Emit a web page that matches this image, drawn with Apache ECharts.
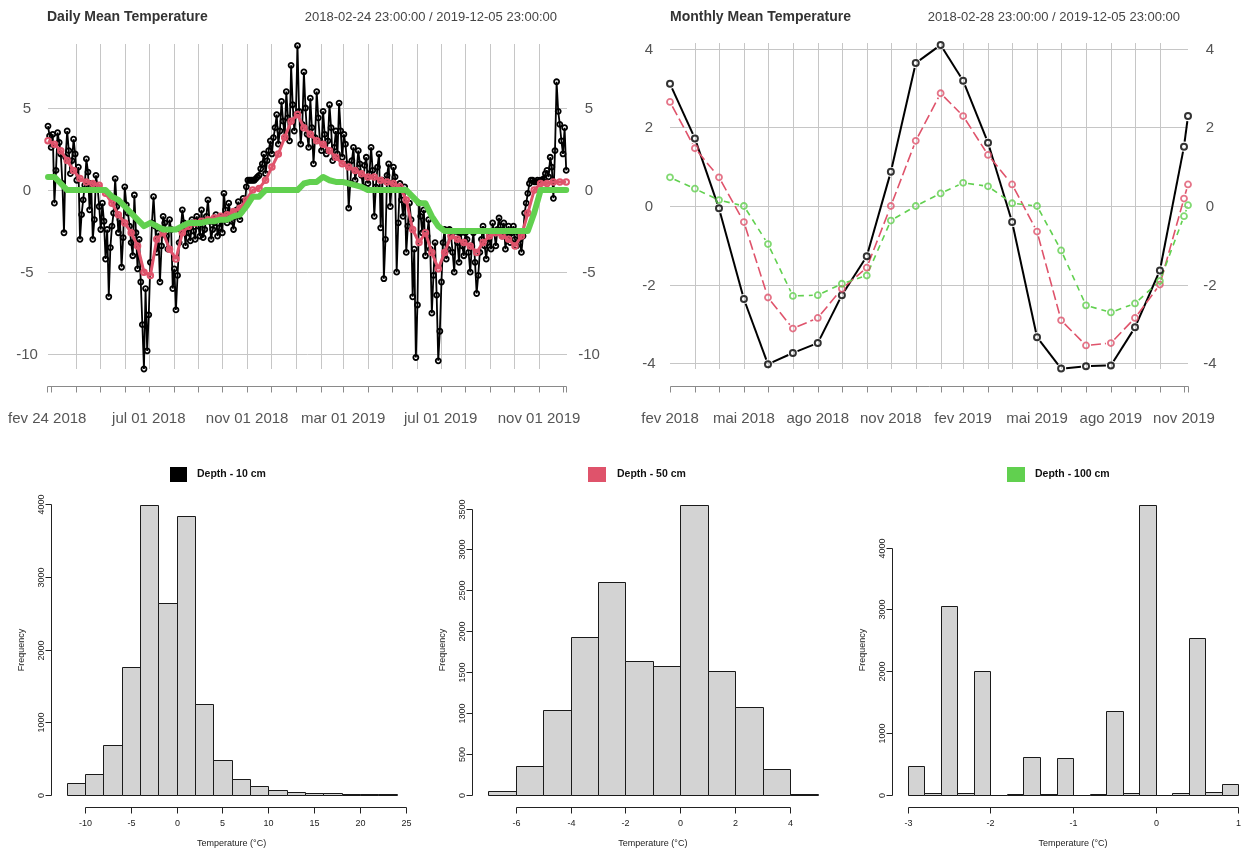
<!DOCTYPE html>
<html>
<head>
<meta charset="utf-8">
<title>Soil temperature</title>
<script src="https://cdn.jsdelivr.net/npm/echarts@6/dist/echarts.min.js"></script>
<style>
  html, body { margin: 0; padding: 0; background: #ffffff; }
  #chart { width: 1243px; height: 850px; }
</style>
</head>
<body>
<div id="chart"></div>
<script>
// ---------------------------------------------------------------
// Daily mean temperature (°C) per depth
// 10 cm sampled every 2 days, 50 cm and 100 cm every 8 days,
// all starting 2018-02-24
// ---------------------------------------------------------------
const dailyStart = '2018-02-24';
const dailyEnd = '2019-12-05';
const daily10cmStepDays = 2;
const dailyDeepStepDays = 8;

const daily10cm = [
  3.9, 3.3, 2.6, 3.4, -0.8, 1.2, 3.5, 2.9, 2.2, 0.4, -2.6, 2.0, 3.6, 2.4, 1.0, 1.8, 3.1, 2.2,
  0.6, 1.4, -3.0, -1.5, -0.6, 0.3, 1.9, 1.1, -1.2, 0.4, -3.0, -1.8, 0.9, 0.2, -1.0, -2.4,
  -0.8, -1.9, -4.2, -2.4, -6.5, -3.5, -2.2, -1.4, 0.7, -1.0, -2.6, -1.8, -4.7, -2.9, 0.2, -0.9,
  -1.4, -2.2, -3.2, -4.0, -0.3, -2.6, -4.8, -3.0, -5.6, -8.2, -10.9, -6.0, -9.8, -7.6, -4.4, -2.0,
  -0.4, -2.2, -3.8, -2.6, -5.6, -3.4, -1.6, -2.0, -2.8, -3.6, -1.8, -2.4, -6.0, -4.8,
  -7.3, -5.2, -3.2, -2.4, -1.2, -2.0, -3.4, -2.2, -2.6, -3.1, -1.8, -2.5, -3.0, -1.6, -2.2, -2.8,
  -1.2, -2.9, -2.4, -1.6, -0.6, -1.9, -3.0, -2.4, -2.0, -1.5, -2.8, -2.3, -1.6, -2.6,
  -0.2, -1.2, -2.0, -0.8, -1.4, -1.9, -2.4, -1.6, -1.2, -0.7, -1.8, -1.3, -0.5, -1.0, 0.2, 0.6,
  0.6, 0.6, 0.6, 0.6, 0.7, 0.8, 0.9, 1.3, 1.6, 2.2, 1.0, 1.8, 2.4, 3.0,
  2.2, 3.2, 3.8, 4.6, 2.8, 3.6, 5.4, 4.2, 3.2, 6.0, 4.4, 3.0, 7.6, 5.2, 3.6, 4.6,
  8.8, 4.8, 2.8, 4.0, 7.2, 5.0, 3.4, 2.6, 5.6, 3.8, 1.6, 3.2, 6.0, 4.4, 3.0, 2.4,
  4.8, 3.4, 2.2, 3.0, 5.2, 3.8, 1.8, 2.6, 3.6, 2.2, 5.3, 3.6, 2.0, 3.4,
  2.8, 1.6, -1.1, 0.4, 1.8, 2.6, 0.6, 1.2, 2.4, 1.6, 0.9, 0.2, 1.5, 2.0, 0.4, 1.0,
  2.6, 1.2, -1.6, 0.2, 1.4, 2.2, -2.3, 0.6, -5.4, -3.0, 0.9, 1.6, -1.0, 0.4,
  1.4, 0.8, -5.0, -2.0, 0.4, -0.6, -1.6, 0.2, -3.8, -2.2, -0.8, -1.8, -6.5, -3.6, -10.2, -7.0,
  -0.8, -1.6, -2.6, -1.2, -4.0, -2.8, -1.8, -3.6, -7.5, -5.2, -3.2, -6.4, -10.4, -8.6,
  -5.6, -3.2, -2.4, -4.2, -3.6, -2.4, -2.8, -3.8, -5.0, -2.8, -3.2, -4.4, -2.6, -3.4, -4.0, -2.6,
  -3.0, -3.8, -5.0, -3.4, -2.6, -4.4, -6.3, -5.2, -3.8, -3.0, -2.2, -3.4, -4.2, -3.2, -2.8, -3.6,
  -2.0, -2.6, -3.4, -2.4, -1.7, -2.2, -2.8, -2.0, -3.6, -2.8, -2.2, -3.2, -2.6, -2.2,
  -3.0, -3.4, -2.6, -3.0, -3.8, -2.8, -1.4, -0.8, -0.2, 0.4, 0.6, 0.6, 0.5, 0.5, 0.6, 0.5,
  0.6, 0.6, 0.7, 1.0, 1.2, 0.8, 2.0, 1.4, -0.5, 2.4, 6.6, 4.8, 4.0, 3.0, 2.2, 3.8, 1.2
];

const daily50cm = [
  3.0, 2.8, 2.4, 1.8, 1.2,
  0.7, 0.5, 0.4, 0.3,
  -0.2, -0.8, -1.5, -2.0,
  -2.6, -3.4, -5.0,
  -5.2, -3.0, -2.6, -3.6,
  -4.2, -2.6, -2.2, -2.0,
  -1.9, -1.8, -1.7, -1.6,
  -1.5, -1.3, -1.1, -0.6,
  0.0, 0.1, 0.6,
  1.4, 2.2, 3.2, 4.2,
  4.6,
  3.8, 3.4, 3.0,
  2.8, 2.4, 2.0, 1.6,
  1.4, 1.2, 1.0, 0.8,
  0.8, 0.6, 0.5,
  0.4, 0.2, -0.6, -2.4,
  -3.2,
  -2.6, -3.8, -4.8,
  -3.8, -2.8, -3.0, -3.2,
  -3.4, -3.8, -3.2, -2.8,
  -2.6, -2.8, -3.0,
  -3.4, -2.8, -1.4, 0.0,
  0.4, 0.4, 0.5, 0.5,
  0.5
];

const daily100cm = [
  0.8, 0.8, 0.4, 0.0, 0.0, 0.0, 0.0, 0.0, 0.0, 0.0, -0.4, -0.6, -1.0, -1.4, -1.8, -2.2,
  -2.0, -2.2, -2.4, -2.4, -2.4, -2.2, -2.0, -2.0, -2.0, -1.9, -1.9, -1.8, -1.8, -1.6, -1.5, -1.0,
  -0.4, -0.4, 0.0, 0.0, 0.0, 0.0, 0.0, 0.0,
  0.4, 0.5, 0.5, 0.8, 0.6, 0.5, 0.5, 0.4, 0.3, 0.2, 0.0,
  0.0, 0.0, 0.0, 0.0, 0.0, 0.0,
  -0.4, -0.8, -0.8, -1.6, -2.2, -2.5,
  -2.5, -2.5, -2.5, -2.5, -2.5, -2.5, -2.5, -2.5, -2.5, -2.5, -2.5, -2.5,
  -2.5, -1.4, 0.0, 0.0, 0.0, 0.0, 0.0
];

// date axis of the daily panel
const dailyTickDates = [
  '2018-02-24', '2018-03-01', '2018-04-01', '2018-05-01', '2018-06-01', '2018-07-01',
  '2018-08-01', '2018-09-01', '2018-10-01', '2018-11-01', '2018-12-01', '2019-01-01',
  '2019-02-01', '2019-03-01', '2019-04-01', '2019-05-01', '2019-06-01', '2019-07-01',
  '2019-08-01', '2019-09-01', '2019-10-01', '2019-11-01', '2019-12-01', '2019-12-05'
];
const dailyGridDates = dailyTickDates.slice(2, 22);
const dailyLabelDates = ['2018-02-24', '2018-07-01', '2018-11-01', '2019-03-01', '2019-07-01', '2019-11-01'];
const dailyLabelTexts = ['fev 24 2018', 'jul 01 2018', 'nov 01 2018', 'mar 01 2019', 'jul 01 2019', 'nov 01 2019'];
const dailyYTicks = [-10, -5, 0, 5];

// ---------------------------------------------------------------
// Monthly mean temperature (°C) per depth
// ---------------------------------------------------------------
const monthDates = [
  '2018-02-28', '2018-03-31', '2018-04-30', '2018-05-31', '2018-06-30', '2018-07-31',
  '2018-08-31', '2018-09-30', '2018-10-31', '2018-11-30', '2018-12-31', '2019-01-31',
  '2019-02-28', '2019-03-31', '2019-04-30', '2019-05-31', '2019-06-30', '2019-07-31',
  '2019-08-31', '2019-09-30', '2019-10-31', '2019-11-30', '2019-12-05'
];
const monthly10cm = [3.11, 1.72, -0.06, -2.37, -4.03, -3.74, -3.49, -2.27, -1.28, 0.87, 3.64, 4.10,
                     3.19, 1.61, -0.41, -3.34, -4.14, -4.08, -4.06, -3.09, -1.64, 1.51, 2.29];
const monthly50cm = [2.65, 1.47, 0.73, -0.41, -2.33, -3.12, -2.85, -2.11, -1.57, 0.00, 1.66, 2.87,
                     2.29, 1.30, 0.55, -0.65, -2.91, -3.55, -3.49, -2.85, -2.00, 0.19, 0.55];
const monthly100cm = [0.73, 0.44, 0.15, 0.00, -0.97, -2.29, -2.27, -1.98, -1.77, -0.37, 0.00, 0.32,
                      0.59, 0.50, 0.07, 0.00, -1.13, -2.53, -2.71, -2.48, -1.91, -0.26, 0.02];
const monthlyLabelDates = ['2018-02-28', '2018-05-31', '2018-08-31', '2018-11-30', '2019-02-28', '2019-05-31', '2019-08-31', '2019-11-30'];
const monthlyLabelTexts = ['fev 2018', 'mai 2018', 'ago 2018', 'nov 2018', 'fev 2019', 'mai 2019', 'ago 2019', 'nov 2019'];
const monthlyGridDates = monthDates.slice(1, 21);
const monthlyYTicks = [-4, -2, 0, 2, 4];

// ---------------------------------------------------------------
// Histograms of the hourly readings
// ---------------------------------------------------------------
const hist10Breaks = [-12, -10, -8, -6, -4, -2, 0, 2, 4, 6, 8, 10, 12, 14, 16, 18, 20, 22, 24];
const hist10Counts = [170, 294, 694, 1766, 3991, 2639, 3834, 1251, 483, 221, 130, 75, 40, 23, 23, 9, 9, 9];
const hist10XTicks = [-10, -5, 0, 5, 10, 15, 20, 25];
const hist10YTicks = [0, 1000, 2000, 3000, 4000];

const hist50Breaks = [-7, -6, -5, -4, -3, -2, -1, 0, 1, 2, 3, 4, 5];
const hist50Counts = [49, 359, 1033, 1927, 2608, 1637, 1576, 3543, 1510, 1073, 314, 16];
const hist50XTicks = [-6, -4, -2, 0, 2, 4];
const hist50YTicks = [0, 500, 1000, 1500, 2000, 2500, 3000, 3500];

const hist100Breaks = [-3, -2.8, -2.6, -2.4, -2.2, -2, -1.8, -1.6, -1.4, -1.2, -1, -0.8, -0.6, -0.4, -0.2, 0, 0.2, 0.4, 0.6, 0.8, 1];
const hist100Counts = [475, 27, 3060, 27, 2008, 0, 16, 620, 16, 594, 0, 16, 1355, 27, 4690, 0, 27, 2547, 49, 178];
const hist100XTicks = [-3, -2, -1, 0, 1];
const hist100YTicks = [0, 1000, 2000, 3000, 4000];

const depthNames = ['Depth - 10 cm', 'Depth - 50 cm', 'Depth - 100 cm'];

// ---------------------------------------------------------------
// drawing
// ---------------------------------------------------------------
const FONT_FAMILY = '"Liberation Sans", Arial, Helvetica, sans-serif';
const DAY_MS = 86400000;
const COL = ['#000000', '#DF536B', '#61D04F'];
const GRID_COL = '#c6c6c6';
const AXIS_COL = '#8a8a8a';
const LABEL_COL = '#555555';

function dateMs(s, hour) {
  const p = s.split('-').map(Number);
  return Date.UTC(p[0], p[1] - 1, p[2], hour || 0);
}
const px = v => Math.round(v) + 0.5;

function txt(x, y, s, font, fill, align, vAlign, rotation) {
  const el = {
    type: 'text', x: x, y: y,
    style: { text: s, x: 0, y: 0, font: font, fill: fill,
             align: align, verticalAlign: vAlign,
             textAlign: align, textVerticalAlign: vAlign }
  };
  if (rotation) el.rotation = rotation;
  return el;
}
function seg(x1, y1, x2, y2, stroke, w) {
  return { type: 'line', shape: { x1: x1, y1: y1, x2: x2, y2: y2 }, style: { stroke: stroke, lineWidth: w || 1 } };
}
function decor(gi, anchor, renderItem, z) {
  return { type: 'custom', xAxisIndex: gi, yAxisIndex: gi, clip: false, silent: true,
           animation: false, z: z || 1, data: [anchor], renderItem: renderItem };
}

// frame of a time-series panel: grid lines, both y scales and the date axis
function panelFrame(gi, xMin, gridXs, yTicks, tickXs, labelXs, labelTexts) {
  const font = '15px ' + FONT_FAMILY;
  return decor(gi, [xMin, 0], function (params, api) {
    const cs = params.coordSys;
    const kids = [];
    gridXs.forEach(function (t) {
      const x = px(api.coord([t, 0])[0]);
      kids.push(seg(x, cs.y, x, cs.y + cs.height, GRID_COL, 1));
    });
    yTicks.forEach(function (v) {
      const y = px(api.coord([xMin, v])[1]);
      kids.push(seg(cs.x, y, cs.x + cs.width, y, GRID_COL, 1));
      kids.push(txt(cs.x - 21, y, String(v), font, LABEL_COL, 'center', 'middle'));
      kids.push(txt(cs.x + cs.width + 22, y, String(v), font, LABEL_COL, 'center', 'middle'));
    });
    const yAx = px(cs.y + cs.height + 17);
    const xs = tickXs.map(function (t) { return px(api.coord([t, 0])[0]); });
    kids.push(seg(xs[0], yAx, xs[xs.length - 1], yAx, AXIS_COL, 1));
    xs.forEach(function (x) { kids.push(seg(x, yAx, x, yAx + 6, AXIS_COL, 1)); });
    labelXs.forEach(function (t, i) {
      kids.push(txt(api.coord([t, 0])[0], yAx + 32, labelTexts[i], font, LABEL_COL, 'center', 'middle'));
    });
    return { type: 'group', children: kids };
  });
}

// line broken around each point, as in a "both" plot
function brokenLine(gi, xs, ys, color, width, dash, gap) {
  const data = [];
  for (let i = 0; i < xs.length - 1; i++) data.push([xs[i], ys[i], xs[i + 1], ys[i + 1]]);
  return {
    type: 'custom', xAxisIndex: gi, yAxisIndex: gi, clip: false, silent: true, animation: false, z: 3,
    data: data, encode: { x: [0, 2], y: [1, 3] },
    renderItem: function (params, api) {
      const a = api.coord([api.value(0), api.value(1)]);
      const b = api.coord([api.value(2), api.value(3)]);
      const dx = b[0] - a[0], dy = b[1] - a[1], len = Math.hypot(dx, dy);
      if (len <= 2 * gap) return { type: 'group', children: [] };
      const ux = dx / len, uy = dy / len;
      return { type: 'line',
               shape: { x1: a[0] + ux * gap, y1: a[1] + uy * gap, x2: b[0] - ux * gap, y2: b[1] - uy * gap },
               style: { stroke: color, lineWidth: width, lineDash: dash, lineCap: 'butt' } };
    }
  };
}
function ringPoints(gi, xs, ys, color, size, border, z) {
  return {
    type: 'scatter', xAxisIndex: gi, yAxisIndex: gi, silent: true, animation: false, z: z || 4,
    data: xs.map(function (x, i) { return [x, ys[i]]; }),
    symbol: 'circle', symbolSize: size,
    itemStyle: { color: 'rgba(0,0,0,0)', borderColor: color, borderWidth: border }
  };
}

// histogram bars and R-style detached axes
function histBars(gi, breaks, counts) {
  return {
    type: 'custom', xAxisIndex: gi, yAxisIndex: gi, clip: false, silent: true, animation: false, z: 2,
    data: counts.map(function (c, i) { return [breaks[i], breaks[i + 1], c]; }),
    encode: { x: [0, 1], y: 2 },
    renderItem: function (params, api) {
      const p0 = api.coord([api.value(0), api.value(2)]);
      const p1 = api.coord([api.value(1), 0]);
      const x0 = px(p0[0]), x1 = px(p1[0]), y0 = px(p0[1]), y1 = px(p1[1]);
      return { type: 'rect', shape: { x: x0, y: y0, width: x1 - x0, height: y1 - y0 },
               style: { fill: '#d3d3d3', stroke: '#1a1a1a', lineWidth: 1 } };
    }
  };
}
function histFrame(gi, breaks, counts, xTicks, yTicks) {
  const font = '9px ' + FONT_FAMILY;
  const ink = '#222222';
  return decor(gi, [xTicks[0], 0], function (params, api) {
    const cs = params.coordSys;
    const kids = [];
    const yAx = px(cs.y + cs.height + 12);
    const X = function (v) { return px(api.coord([v, 0])[0]); };
    const Y = function (v) { return px(api.coord([breaks[0], v])[1]); };
    kids.push(seg(X(xTicks[0]), yAx, X(xTicks[xTicks.length - 1]), yAx, ink, 1));
    xTicks.forEach(function (v) {
      kids.push(seg(X(v), yAx, X(v), yAx + 6, ink, 1));
      kids.push(txt(X(v), yAx + 16, String(v), font, ink, 'center', 'middle'));
    });
    const xAx = px(cs.x - 16);
    kids.push(seg(xAx, Y(yTicks[0]), xAx, Y(yTicks[yTicks.length - 1]), ink, 1));
    yTicks.forEach(function (v) {
      kids.push(seg(xAx - 6, Y(v), xAx, Y(v), ink, 1));
      kids.push(txt(xAx - 10, Y(v), String(v), font, ink, 'center', 'middle', Math.PI / 2));
    });
    const midX = api.coord([(breaks[0] + breaks[breaks.length - 1]) / 2, 0])[0];
    const midY = api.coord([breaks[0], Math.max.apply(null, counts) / 2])[1];
    kids.push(txt(midX, yAx + 36, 'Temperature (°C)', font, ink, 'center', 'middle'));
    kids.push(txt(xAx - 30, midY, 'Frequency', font, ink, 'center', 'middle', Math.PI / 2));
    return { type: 'group', children: kids };
  });
}

// ---- time values ----
const dailyT0 = dateMs(dailyStart, 23);
const dailyT1 = dateMs(dailyEnd, 23);
const tDaily10 = daily10cm.map(function (_, i) { return dailyT0 + i * daily10cmStepDays * DAY_MS; });
const tDailyDeep = daily50cm.map(function (_, i) { return dailyT0 + i * dailyDeepStepDays * DAY_MS; });
const tMonthly = monthDates.map(function (s) { return dateMs(s, 23); });

const pairs = function (xs, ys) { return ys.map(function (v, i) { return [xs[i], v]; }); };

const chart = echarts.init(document.getElementById('chart'), null, { renderer: 'canvas' });

const option = {
  backgroundColor: '#ffffff',
  animation: false,
  grid: [
    { left: 48, top: 44, width: 519, height: 325 },
    { left: 670, top: 43, width: 518, height: 326 },
    { left: 66.7, top: 505, width: 339, height: 290 },
    { left: 488.3, top: 505, width: 329.2, height: 290 },
    { left: 907.7, top: 505, width: 330.7, height: 290 }
  ],
  xAxis: [
    { type: 'value', gridIndex: 0, min: dailyT0, max: dailyT1, show: false },
    { type: 'value', gridIndex: 1, min: tMonthly[0], max: tMonthly[tMonthly.length - 1], show: false },
    { type: 'value', gridIndex: 2, min: -12, max: 25, show: false },
    { type: 'value', gridIndex: 3, min: -7, max: 5, show: false },
    { type: 'value', gridIndex: 4, min: -3, max: 1, show: false }
  ],
  yAxis: [
    { type: 'value', gridIndex: 0, min: -10.9, max: 8.9, show: false },
    { type: 'value', gridIndex: 1, min: -4.15, max: 4.15, show: false },
    { type: 'value', gridIndex: 2, min: 0, max: Math.max.apply(null, hist10Counts), show: false },
    { type: 'value', gridIndex: 3, min: 0, max: Math.max.apply(null, hist50Counts), show: false },
    { type: 'value', gridIndex: 4, min: 0, max: Math.max.apply(null, hist100Counts), show: false }
  ],
  graphic: [
    { type: 'text', x: 47, y: 17, style: { text: 'Daily Mean Temperature', font: 'bold 14px ' + FONT_FAMILY, fill: '#333333', verticalAlign: 'middle', textVerticalAlign: 'middle' } },
    { type: 'text', x: 557, y: 17, style: { text: '2018-02-24 23:00:00 / 2019-12-05 23:00:00', font: '13px ' + FONT_FAMILY, fill: '#444444', align: 'right', textAlign: 'right', verticalAlign: 'middle', textVerticalAlign: 'middle' } },
    { type: 'text', x: 670, y: 17, style: { text: 'Monthly Mean Temperature', font: 'bold 14px ' + FONT_FAMILY, fill: '#333333', verticalAlign: 'middle', textVerticalAlign: 'middle' } },
    { type: 'text', x: 1180, y: 17, style: { text: '2018-02-28 23:00:00 / 2019-12-05 23:00:00', font: '13px ' + FONT_FAMILY, fill: '#444444', align: 'right', textAlign: 'right', verticalAlign: 'middle', textVerticalAlign: 'middle' } },
    { type: 'rect', shape: { x: 170, y: 467, width: 17, height: 15 }, style: { fill: COL[0] } },
    { type: 'text', x: 197, y: 474.5, style: { text: depthNames[0], font: 'bold 10.5px ' + FONT_FAMILY, fill: '#111111', verticalAlign: 'middle', textVerticalAlign: 'middle' } },
    { type: 'rect', shape: { x: 588, y: 467, width: 18, height: 15 }, style: { fill: COL[1] } },
    { type: 'text', x: 617, y: 474.5, style: { text: depthNames[1], font: 'bold 10.5px ' + FONT_FAMILY, fill: '#111111', verticalAlign: 'middle', textVerticalAlign: 'middle' } },
    { type: 'rect', shape: { x: 1007, y: 467, width: 18, height: 15 }, style: { fill: COL[2] } },
    { type: 'text', x: 1035, y: 474.5, style: { text: depthNames[2], font: 'bold 10.5px ' + FONT_FAMILY, fill: '#111111', verticalAlign: 'middle', textVerticalAlign: 'middle' } }
  ],
  series: [
    // daily panel
    panelFrame(0, dailyT0, dailyGridDates.map(function (s) { return dateMs(s); }), dailyYTicks,
               dailyTickDates.map(function (s) { return dateMs(s); }),
               dailyLabelDates.map(function (s) { return dateMs(s); }), dailyLabelTexts),
    {
      type: 'line', xAxisIndex: 0, yAxisIndex: 0, name: depthNames[0], z: 3, silent: true, animation: false,
      data: pairs(tDaily10, daily10cm), symbol: 'circle', symbolSize: 5, showSymbol: true,
      lineStyle: { color: COL[0], width: 1.8 },
      itemStyle: { color: 'rgba(0,0,0,0)', borderColor: COL[0], borderWidth: 1.8 }
    },
    {
      type: 'line', xAxisIndex: 0, yAxisIndex: 0, name: depthNames[1], z: 4, silent: true, animation: false,
      data: pairs(tDailyDeep, daily50cm), symbol: 'circle', symbolSize: 5.5, showSymbol: true,
      lineStyle: { color: COL[1], width: 3 },
      itemStyle: { color: 'rgba(0,0,0,0)', borderColor: COL[1], borderWidth: 2 }
    },
    {
      type: 'line', xAxisIndex: 0, yAxisIndex: 0, name: depthNames[2], z: 5, silent: true, animation: false,
      data: pairs(tDailyDeep, daily100cm), symbol: 'none',
      lineStyle: { color: COL[2], width: 6, cap: 'round', join: 'round' }
    },

    // monthly panel
    panelFrame(1, tMonthly[0], monthlyGridDates.map(function (s) { return dateMs(s, 23); }), monthlyYTicks,
               tMonthly, monthlyLabelDates.map(function (s) { return dateMs(s, 23); }), monthlyLabelTexts),
    brokenLine(1, tMonthly, monthly10cm, COL[0], 2, null, 5),
    brokenLine(1, tMonthly, monthly50cm, COL[1], 1.6, [10, 4], 5),
    brokenLine(1, tMonthly, monthly100cm, COL[2], 1.6, [6, 5], 5),
    ringPoints(1, tMonthly, monthly10cm, COL[0], 6, 2, 6),
    ringPoints(1, tMonthly, monthly50cm, COL[1], 6, 1.8, 6),
    ringPoints(1, tMonthly, monthly100cm, COL[2], 6, 1.8, 6),

    // histograms
    histBars(2, hist10Breaks, hist10Counts),
    histFrame(2, hist10Breaks, hist10Counts, hist10XTicks, hist10YTicks),
    histBars(3, hist50Breaks, hist50Counts),
    histFrame(3, hist50Breaks, hist50Counts, hist50XTicks, hist50YTicks),
    histBars(4, hist100Breaks, hist100Counts),
    histFrame(4, hist100Breaks, hist100Counts, hist100XTicks, hist100YTicks)
  ]
};

chart.setOption(option);
</script>
</body>
</html>
